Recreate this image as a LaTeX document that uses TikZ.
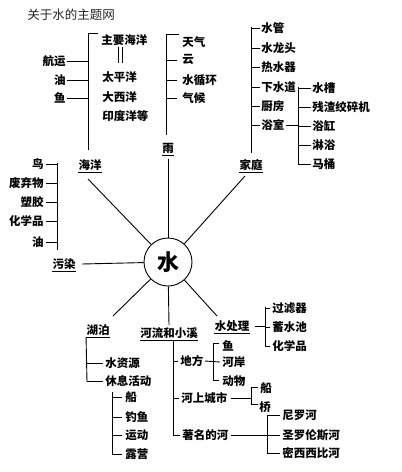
\documentclass[tikz,border=0pt]{standalone}
\usepackage{fontspec}
\newfontfamily\cjk{Noto Sans CJK SC}
\newcommand\ulnode[1]{\draw ([yshift=-1.5pt]#1.south west) -- ([yshift=-1.5pt]#1.south east);}
\begin{document}
\begin{tikzpicture}[x=1pt,y=-1pt,line width=0.9pt,
  lbl/.style={font=\cjk\bfseries\fontsize{11.5}{13}\selectfont,inner sep=0pt},
  w/.style={lbl,anchor=west},
  e/.style={lbl,anchor=east}]
\useasboundingbox[fill=white] (0,0) rectangle (402,472);

\node[anchor=west,inner sep=0pt,font=\cjk\fontsize{12.5}{14}\selectfont,text=black!85] (title) at (27,15) {关于水的主题网};

% ---------- 海洋 ----------
\node[w] (zyhy) at (101,40) {主要海洋};
\node[w] (tpy) at (102,77) {太平洋};
\node[w] (dxy) at (102,97) {大西洋};
\node[w] (ydy) at (102,116) {印度洋等};
\node[e] (hangyun) at (66,61) {航运};
\node[e] (you1) at (66,80) {油};
\node[e] (yu1) at (66,98) {鱼};
\node[lbl] (haiyang) at (90,165) {海洋};
\ulnode{haiyang}
\coordinate (hyT) at (88,33);
\coordinate (hyB) at (88,150);
\draw (hyB) -- (hyT) -- ++(10,0);
\foreach \n in {hangyun,you1,yu1} \draw ([xshift=1pt]\n.east) -- (\n.east -| hyT);
\draw ([xshift=-6pt,yshift=-1pt]zyhy.south) -- ++(0,16);
\draw ([xshift=-2pt,yshift=-1pt]zyhy.south) -- ++(0,16);

% ---------- 雨 ----------
\node[w] (tianqi) at (182,42) {天气};
\node[w] (yun) at (182,60) {云};
\node[w] (xunhuan) at (182,80) {水循环};
\node[w] (qihou) at (182,98) {气候};
\coordinate (yuT) at (166,34);
\coordinate (yuB) at (166,135);
\draw (yuB) -- (yuT) -- ++(13,0);
\foreach \n in {yun,xunhuan,qihou} \draw (yuT |- \n.west) -- ++(11,0);
\node[lbl] (yu) at (168,148) {雨};
\ulnode{yu}

% ---------- 家庭 ----------
\node[w] (shuiguan) at (261,28) {水管};
\node[w] (longtou) at (261,48) {水龙头};
\node[w] (reshui) at (261,67) {热水器};
\node[w] (xiashui) at (261,87) {下水道};
\node[w] (chufang) at (261,106) {厨房};
\node[w] (yushi) at (261,125) {浴室};
\coordinate (jtT) at (251,27);
\coordinate (jtB) at (251,153);
\draw (jtB) -- (jtT);
\foreach \n in {shuiguan,longtou,reshui,xiashui,chufang,yushi} \draw (jtT |- \n.west) -- ([xshift=-1pt]\n.west);
\node[w] (shuicao) at (312,88) {水槽};
\node[w] (canzha) at (312,107) {残渣绞碎机};
\node[w] (yugang) at (312,126) {浴缸};
\node[w] (linyu) at (312,145) {淋浴};
\node[w] (matong) at (312,164) {马桶};
\coordinate (ysT) at (298,87);
\coordinate (ysB) at (298,164);
\draw (ysT) -- (ysB);
\draw ([xshift=1pt]yushi.east) -- (yushi.east -| ysT);
\foreach \n in {shuicao,canzha,yugang,linyu,matong} \draw (ysT |- \n.west) -- ([xshift=-1.5pt]\n.west);
\node[lbl] (jiating) at (251,165) {家庭};
\ulnode{jiating}

% ---------- 污染 ----------
\node[e] (niao) at (44,164) {鸟};
\node[e] (feiqi) at (44,183) {废弃物};
\node[e] (suojiao) at (44,202) {塑胶};
\node[e] (huaxue1) at (44,221) {化学品};
\node[e] (you2) at (44,242) {油};
\coordinate (wrT) at (57,163);
\coordinate (wrB) at (57,250);
\draw (wrT) -- (wrB);
\foreach \n in {niao,feiqi,suojiao,huaxue1,you2} \draw ([xshift=2pt]\n.east) -- (\n.east -| wrT);
\node[lbl] (wuran) at (64,264) {污染};
\ulnode{wuran}

% ---------- centre ----------
\node[circle,draw,minimum size=48pt,inner sep=0pt,font=\cjk\bfseries\fontsize{22}{24}\selectfont] (shui) at (168,262) {水};
\coordinate (hyE) at (88,179);
\coordinate (jtE) at (245,176);
\coordinate (hbE) at (113,316);
\coordinate (slE) at (217,316);
\draw (shui) -- (hyE);
\draw (shui) -- (jtE);
\draw (shui) -- (hbE);
\draw (shui) -- (slE);
\draw ([yshift=-5pt]yu.south) -- (shui);
\draw ([xshift=6pt]wuran.east) -- (shui);

% ---------- 湖泊 ----------
\node[lbl] (hupo) at (98,330) {湖泊};
\ulnode{hupo}
\coordinate (hpB) at (87,382);
\draw ([yshift=-1.5pt]hupo.south west) -- (hpB);
\node[w] (ziyuan) at (105,363) {水资源};
\node[w] (xiuxi) at (105,381) {休息活动};
\foreach \n in {ziyuan,xiuxi} \draw (hpB |- \n.west) -- ([xshift=-2pt]\n.west);
\node[w] (chuan1) at (125,397) {船};
\node[w] (diaoyu) at (125,417) {钓鱼};
\node[w] (yundong) at (125,435) {运动};
\node[w] (luying) at (125,454) {露营};
\coordinate (xxT) at (112,392);
\coordinate (xxB) at (112,454);
\draw (xxT) -- (xxB);
\foreach \n in {chuan1,diaoyu,yundong,luying} \draw (xxT |- \n.west) -- ([xshift=-3pt]\n.west);

% ---------- 河流和小溪 ----------
\node[lbl] (heliu) at (169,333) {河流和小溪};
\ulnode{heliu}
\draw (shui) -- ([yshift=2pt]heliu.north);
\coordinate (hlT) at (173,341);
\coordinate (hlB) at (173,435);
\draw (hlT) -- (hlB);
\node[w] (difang) at (180,361) {地方};
\node[w] (heshang) at (181,398) {河上城市};
\node[w] (zhuming) at (182,435) {著名的河};
\foreach \n in {difang,heshang,zhuming} \draw (hlT |- \n.west) -- ([xshift=-2pt]\n.west);
\node[w] (yu2) at (222,346) {鱼};
\node[w] (hean) at (222,362) {河岸};
\node[w] (dongwu) at (222,381) {动物};
\coordinate (dfT) at (213,343);
\coordinate (dfB) at (213,380);
\draw ([xshift=6pt]dfT) -- (dfT) -- (dfB) -- ++(6,0);
\draw ([xshift=1pt]difang.east) -- ([xshift=-2pt]hean.west);
\node[w] (chuan2) at (260,388) {船};
\node[w] (qiao) at (259,407) {桥};
\coordinate (hsT) at (251,387);
\coordinate (hsB) at (251,404);
\draw ([xshift=7pt]hsT) -- (hsT) -- (hsB) -- ++(7,0);
\draw ([xshift=3pt]heshang.east) -- (heshang.east -| hsT);
\node[w] (niluo) at (282,415) {尼罗河};
\node[w] (shengluo) at (282,435) {圣罗伦斯河};
\node[w] (mixi) at (282,453) {密西西比河};
\coordinate (zmT) at (267,415);
\coordinate (zmB) at (267,453);
\draw (zmT) -- (zmB);
\draw ([xshift=2pt]zhuming.east) -- (zhuming.east -| zmT);
\foreach \n in {niluo,shengluo,mixi} \draw (zmT |- \n.west) -- ([xshift=-2pt]\n.west);

% ---------- 水处理 ----------
\node[lbl] (chuli) at (232,326) {水处理};
\ulnode{chuli}
\node[w] (guolv) at (272,308) {过滤器};
\node[w] (xushui) at (272,327) {蓄水池};
\node[w] (huaxue2) at (272,346) {化学品};
\coordinate (clT) at (265,307);
\coordinate (clB) at (265,347);
\draw (clT) -- (clB);
\draw ([xshift=5pt]chuli.east) -- (chuli.east -| clT);
\foreach \n in {guolv,xushui,huaxue2} \draw (clT |- \n.west) -- ([xshift=-2pt]\n.west);
\end{tikzpicture}
\end{document}
